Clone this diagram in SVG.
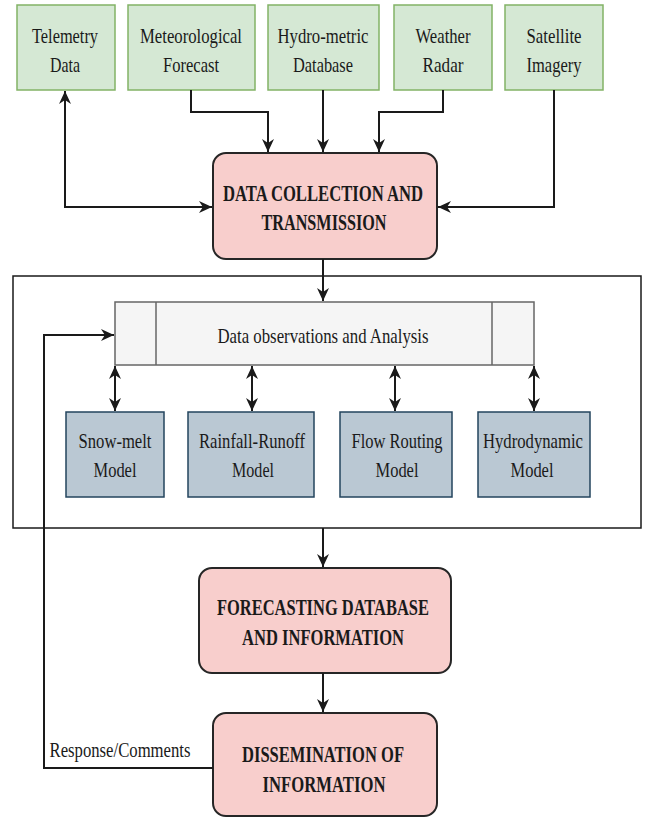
<svg xmlns="http://www.w3.org/2000/svg" width="646" height="818" viewBox="0 0 646 818">
<style>
text{font-family:"Liberation Serif","Times New Roman",serif;fill:#1a1a1a;text-anchor:middle}
.t{font-size:21px}
.b{font-size:23px;font-weight:bold}
.green{fill:#d5e8d4;stroke:#82b366;stroke-width:1.5}
.pink{fill:#f8cecc;stroke:#262626;stroke-width:2}
.blue{fill:#bac8d3;stroke:#23445d;stroke-width:1.5}
.grey{fill:#f5f5f5;stroke:#666;stroke-width:1.5}
.line{fill:none;stroke:#1a1a1a;stroke-width:2}
</style>
<defs>
<marker id="ah" viewBox="0 0 10 10" refX="10" refY="5" markerWidth="13" markerHeight="12" markerUnits="userSpaceOnUse" orient="auto-start-reverse" preserveAspectRatio="none">
<path d="M0,0 L10,5 L0,10 L3,5 z" fill="#1a1a1a"/>
</marker>
</defs>
<rect x="13" y="276" width="628" height="252" fill="none" stroke="#1a1a1a" stroke-width="1.5"/>
<g id="telemetry">
<rect class="green" x="17" y="5" width="98" height="85"/>
<text class="t" x="65" y="43" textLength="66" lengthAdjust="spacingAndGlyphs">Telemetry</text>
<text class="t" x="65" y="72" textLength="30" lengthAdjust="spacingAndGlyphs">Data</text>
</g>
<g id="meteo">
<rect class="green" x="128" y="5" width="127" height="85"/>
<text class="t" x="191" y="43" textLength="102" lengthAdjust="spacingAndGlyphs">Meteorological</text>
<text class="t" x="191" y="72" textLength="56" lengthAdjust="spacingAndGlyphs">Forecast</text>
</g>
<g id="hydro">
<rect class="green" x="268" y="5" width="111" height="85"/>
<text class="t" x="323" y="43" textLength="91" lengthAdjust="spacingAndGlyphs">Hydro-metric</text>
<text class="t" x="323" y="72" textLength="60" lengthAdjust="spacingAndGlyphs">Database</text>
</g>
<g id="radar">
<rect class="green" x="394" y="5" width="98" height="85"/>
<text class="t" x="443" y="43" textLength="55" lengthAdjust="spacingAndGlyphs">Weather</text>
<text class="t" x="443" y="72" textLength="41" lengthAdjust="spacingAndGlyphs">Radar</text>
</g>
<g id="satellite">
<rect class="green" x="505" y="5" width="98" height="85"/>
<text class="t" x="554" y="43" textLength="55" lengthAdjust="spacingAndGlyphs">Satellite</text>
<text class="t" x="554" y="72" textLength="55" lengthAdjust="spacingAndGlyphs">Imagery</text>
</g>
<g id="collection">
<rect class="pink" x="213" y="153" width="224" height="106" rx="13"/>
<text class="b" x="323" y="201" textLength="200" lengthAdjust="spacingAndGlyphs">DATA COLLECTION AND</text>
<text class="b" x="324" y="230" textLength="125" lengthAdjust="spacingAndGlyphs">TRANSMISSION</text>
</g>
<g id="observations">
<rect class="grey" x="115" y="302" width="419" height="63"/>
<line x1="156" y1="302" x2="156" y2="365" stroke="#666" stroke-width="1.5"/>
<line x1="492" y1="302" x2="492" y2="365" stroke="#666" stroke-width="1.5"/>
<text class="t" x="323" y="343" textLength="211" lengthAdjust="spacingAndGlyphs">Data observations and Analysis</text>
</g>
<g id="snowmelt">
<rect class="blue" x="66" y="412" width="98" height="85"/>
<text class="t" x="115" y="448" textLength="73" lengthAdjust="spacingAndGlyphs">Snow-melt</text>
<text class="t" x="115" y="477" textLength="43" lengthAdjust="spacingAndGlyphs">Model</text>
</g>
<g id="rainfall">
<rect class="blue" x="188" y="412" width="126" height="85"/>
<text class="t" x="252" y="448" textLength="106" lengthAdjust="spacingAndGlyphs">Rainfall-Runoff</text>
<text class="t" x="253" y="477" textLength="42" lengthAdjust="spacingAndGlyphs">Model</text>
</g>
<g id="flowrouting">
<rect class="blue" x="340" y="412" width="112" height="85"/>
<text class="t" x="397" y="448" textLength="91" lengthAdjust="spacingAndGlyphs">Flow Routing</text>
<text class="t" x="397" y="477" textLength="43" lengthAdjust="spacingAndGlyphs">Model</text>
</g>
<g id="hydrodynamic">
<rect class="blue" x="478" y="412" width="112" height="85"/>
<text class="t" x="533" y="448" textLength="100" lengthAdjust="spacingAndGlyphs">Hydrodynamic</text>
<text class="t" x="532" y="477" textLength="43" lengthAdjust="spacingAndGlyphs">Model</text>
</g>
<g id="forecasting">
<rect class="pink" x="199" y="568" width="252" height="105" rx="13"/>
<text class="b" x="323" y="615" textLength="212" lengthAdjust="spacingAndGlyphs">FORECASTING DATABASE</text>
<text class="b" x="323" y="645" textLength="162" lengthAdjust="spacingAndGlyphs">AND INFORMATION</text>
</g>
<g id="dissemination">
<rect class="pink" x="213" y="713" width="224" height="103" rx="13"/>
<text class="b" x="323" y="762" textLength="162" lengthAdjust="spacingAndGlyphs">DISSEMINATION OF</text>
<text class="b" x="324" y="792" textLength="123" lengthAdjust="spacingAndGlyphs">INFORMATION</text>
</g>
<g id="connectors">
<path class="line" d="M65,91 V207 H212" marker-start="url(#ah)" marker-end="url(#ah)"/>
<path class="line" d="M191,90 V112 H268 V152" marker-end="url(#ah)"/>
<path class="line" d="M323,90 V152" marker-end="url(#ah)"/>
<path class="line" d="M443,90 V112 H379 V152" marker-end="url(#ah)"/>
<path class="line" d="M554,90 V207 H438" marker-end="url(#ah)"/>
<path class="line" d="M323,259 V301" marker-end="url(#ah)"/>
<path class="line" d="M115,366 V411" marker-start="url(#ah)" marker-end="url(#ah)"/>
<path class="line" d="M252,366 V411" marker-start="url(#ah)" marker-end="url(#ah)"/>
<path class="line" d="M395,366 V411" marker-start="url(#ah)" marker-end="url(#ah)"/>
<path class="line" d="M534,366 V411" marker-start="url(#ah)" marker-end="url(#ah)"/>
<path class="line" d="M323,528 V567" marker-end="url(#ah)"/>
<path class="line" d="M323,673 V712" marker-end="url(#ah)"/>
<path class="line" d="M213,768 H44 V335 H114" marker-end="url(#ah)"/>
<text class="t" x="120" y="757" textLength="141" lengthAdjust="spacingAndGlyphs" style="font-size:20px">Response/Comments</text>
</g>
</svg>
